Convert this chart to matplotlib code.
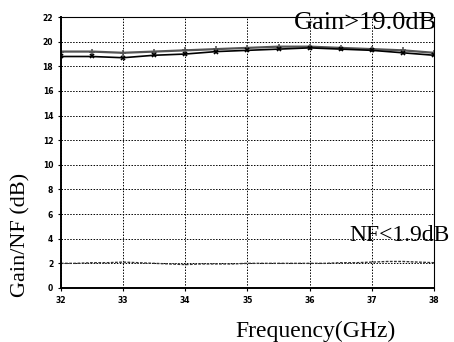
import matplotlib
matplotlib.use('Agg')
import matplotlib.pyplot as plt

freq_gain = [32, 32.5, 33, 33.5, 34, 34.5, 35, 35.5, 36, 36.5, 37, 37.5, 38]
gain_a = [19.2, 19.2, 19.1, 19.2, 19.3, 19.4, 19.5, 19.6, 19.6, 19.5, 19.4, 19.3, 19.1]
gain_b = [18.8, 18.8, 18.7, 18.9, 19.0, 19.2, 19.3, 19.4, 19.5, 19.4, 19.3, 19.1, 18.9]

freq_nf = [32, 32.25, 32.5, 32.75, 33, 33.25, 33.5, 33.75, 34, 34.25, 34.5, 34.75, 35,
           35.25, 35.5, 35.75, 36, 36.25, 36.5, 36.75, 37, 37.25, 37.5, 37.75, 38]
nf = [2.0, 2.0, 2.05, 2.05, 2.1, 2.05, 2.0, 1.95, 1.9, 1.95, 1.95, 1.95, 2.0,
      2.0, 2.0, 2.0, 2.0, 2.0, 2.05, 2.05, 2.1, 2.15, 2.15, 2.1, 2.05]

fig = plt.figure(figsize=(4.54, 3.42), dpi=100)
ax = fig.add_axes([0.134, 0.158, 0.822, 0.792])

ax.plot(freq_gain, gain_a, color='#555555', lw=1.6, marker='+', ms=4, mew=1.2)
ax.plot(freq_gain, gain_b, color='black', lw=1.2, marker='x', ms=3, mew=1.2)
ax.plot(freq_nf, nf, color='#333333', lw=1.0, ls=(0, (2, 1)))

ax.set_xlim(32, 38)
ax.set_ylim(0, 22)
ax.set_xticks(range(32, 39))
ax.set_yticks(range(0, 23, 2))
ax.grid(True, color='black', ls=(0, (1.5, 1.5)), lw=0.7)
ax.tick_params(labelsize=5.5, length=2, width=0.8, direction='out')
for lbl in ax.get_xticklabels() + ax.get_yticklabels():
    lbl.set_fontweight('bold')
for side in ['left', 'bottom']:
    ax.spines[side].set_linewidth(1.4)
for side in ['top', 'right']:
    ax.spines[side].set_linewidth(0.8)

serif = 'Liberation Serif'
ax.text(38.05, 21.55, 'Gain>19.0dB', family=serif, fontsize=19, ha='right', va='center',
        clip_on=False)
ax.text(38.25, 4.3, 'NF<1.9dB', family=serif, fontsize=17, ha='right', va='center',
        clip_on=False)
fig.text(0.696, 0.03, 'Frequency(GHz)', family=serif, fontsize=17, ha='center', va='center')
fig.text(0.047, 0.313, 'Gain/NF (dB)', family=serif, fontsize=16, rotation=90,
         ha='center', va='center')

fig.savefig('out.png', dpi=100)
